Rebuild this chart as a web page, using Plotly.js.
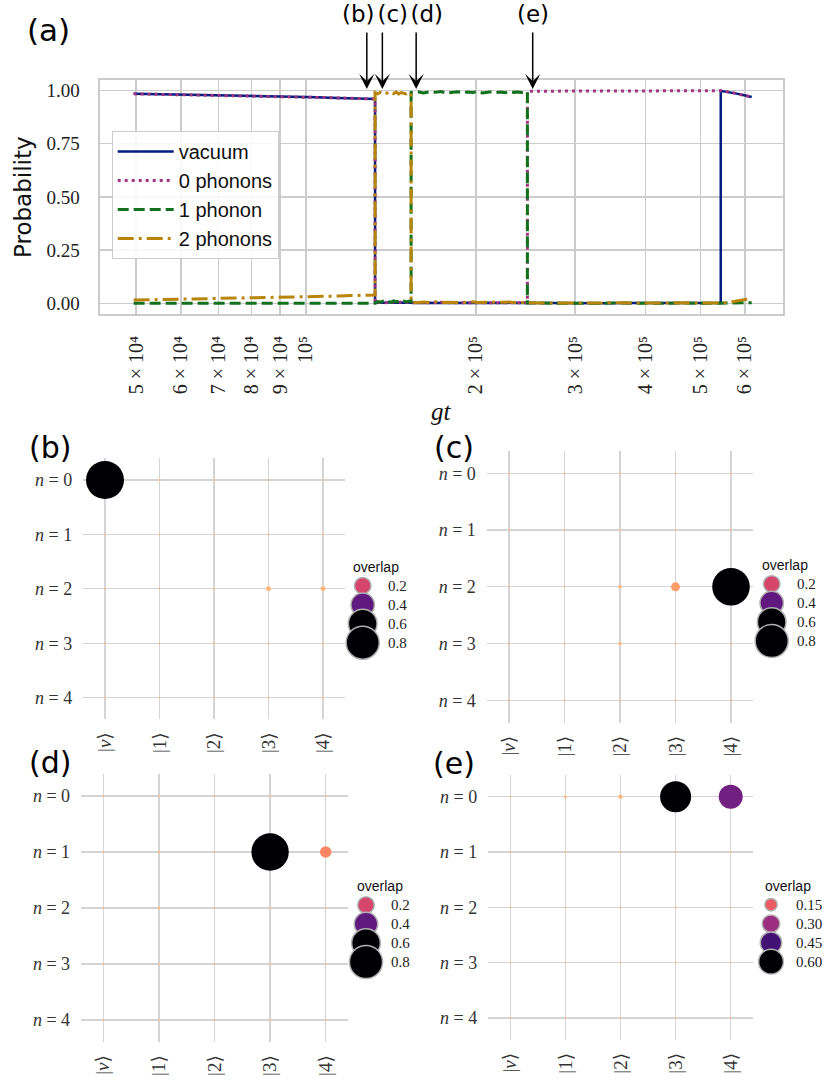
<!DOCTYPE html>
<html>
<head>
<meta charset="utf-8">
<script src="https://cdn.plot.ly/plotly-3.0.1.min.js"></script>
<style>html,body{margin:0;padding:0;background:#fff;}#chart{width:830px;height:1084px;}</style>
</head>
<body>
<div id="chart"></div>
<script>
// ---------------- data: panel (a) ----------------
const gt = [
  49500, 55000, 60000, 65000, 70000, 75000, 80000, 85000, 90000, 95000, 100000, 105000, 110000, 115000, 120000, 126000, 132600,
  132600, 134000, 135500, 137000, 138500, 140000, 141500, 143000, 144500, 146000, 147500, 149000, 150500, 152000, 153600,
  153600, 157500, 161500, 165500, 169500, 173500, 177500, 181500, 185500, 189500, 193500, 197500, 201500, 205500, 209500, 213500, 217500, 221500, 225500, 229500, 233500, 237500, 241500, 246900,
  246900, 265000, 285000, 305000, 325000, 345000, 365000, 385000, 405000, 425000, 445000, 465000, 485000, 505000, 525000, 543500,
  543500, 562000, 580000, 598000, 616700
];
const vacuum = [
  0.984, 0.982, 0.981, 0.980, 0.978, 0.977, 0.975, 0.974, 0.972, 0.971, 0.969, 0.968, 0.966, 0.965, 0.963, 0.962, 0.960,
  0.004, 0.003, 0.005, 0.004, 0.003, 0.006, 0.004, 0.003, 0.005, 0.004, 0.003, 0.005, 0.004, 0.003, 0.004,
  0.003, 0.002, 0.004, 0.003, 0.002, 0.004, 0.003, 0.002, 0.003, 0.004, 0.002, 0.003, 0.002, 0.004, 0.003, 0.002, 0.003, 0.004, 0.002, 0.003, 0.002, 0.003, 0.004, 0.003,
  0.002, 0.002, 0.001, 0.002, 0.002, 0.001, 0.002, 0.002, 0.001, 0.002, 0.002, 0.001, 0.002, 0.002, 0.001, 0.002,
  0.998, 0.993, 0.985, 0.977, 0.969
];
const zeroPhonons = [
  0.984, 0.982, 0.981, 0.979, 0.978, 0.976, 0.975, 0.974, 0.972, 0.971, 0.969, 0.967, 0.966, 0.965, 0.963, 0.962, 0.960,
  0.004, 0.006, 0.005, 0.007, 0.004, 0.006, 0.005, 0.008, 0.005, 0.006, 0.004, 0.007, 0.005, 0.006, 0.005,
  0.004, 0.003, 0.005, 0.003, 0.004, 0.006, 0.003, 0.004, 0.005, 0.003, 0.004, 0.003, 0.005, 0.004, 0.003, 0.005, 0.004, 0.003, 0.004, 0.005, 0.003, 0.004, 0.003, 0.004,
  0.996, 0.997, 0.998, 0.997, 0.998, 0.998, 0.997, 0.998, 0.998, 0.999, 0.998, 0.998, 0.999, 0.998, 0.999, 0.999,
  0.998, 0.993, 0.985, 0.977, 0.969
];
const onePhonon = [
  0.001, 0.001, 0.001, 0.001, 0.001, 0.001, 0.001, 0.001, 0.001, 0.001, 0.001, 0.001, 0.001, 0.001, 0.001, 0.001, 0.001,
  0.003, 0.009, 0.006, 0.011, 0.007, 0.010, 0.005, 0.012, 0.008, 0.009, 0.006, 0.011, 0.007, 0.010, 0.008,
  0.990, 0.994, 0.988, 0.993, 0.991, 0.995, 0.987, 0.992, 0.994, 0.989, 0.993, 0.990, 0.995, 0.988, 0.992, 0.994, 0.990, 0.993, 0.989, 0.995, 0.991, 0.993, 0.990, 0.994,
  0.002, 0.001, 0.002, 0.001, 0.001, 0.002, 0.001, 0.001, 0.002, 0.001, 0.001, 0.002, 0.001, 0.001, 0.002, 0.001,
  0.001, 0.002, 0.003, 0.003, 0.004
];
const twoPhonons = [
  0.016, 0.018, 0.020, 0.021, 0.023, 0.024, 0.026, 0.027, 0.029, 0.030, 0.031, 0.033, 0.034, 0.035, 0.037, 0.038, 0.040,
  0.990, 0.984, 0.991, 0.986, 0.993, 0.982, 0.989, 0.985, 0.992, 0.983, 0.990, 0.987, 0.984, 0.991, 0.986,
  0.006, 0.004, 0.007, 0.005, 0.008, 0.004, 0.006, 0.005, 0.007, 0.004, 0.006, 0.008, 0.005, 0.006, 0.004, 0.007, 0.005, 0.006, 0.004, 0.007, 0.005, 0.006, 0.004, 0.005,
  0.003, 0.002, 0.003, 0.002, 0.002, 0.003, 0.002, 0.002, 0.003, 0.002, 0.002, 0.003, 0.002, 0.002, 0.003, 0.002,
  0.003, 0.004, 0.012, 0.019, 0.024
];
const gtTickVals = [5e4, 6e4, 7e4, 8e4, 9e4, 1e5, 2e5, 3e5, 4e5, 5e5, 6e5];
const gtTickText = ['5 × 10⁴', '6 × 10⁴', '7 × 10⁴', '8 × 10⁴', '9 × 10⁴',
  '10⁵', '2 × 10⁵', '3 × 10⁵', '4 × 10⁵', '5 × 10⁵', '6 × 10⁵'];
const probTicks = [0, 0.25, 0.5, 0.75, 1.0];
const arrowGt = [128200, 136600, 156800, 252300];
const arrowLabels = ['(b)', '(c)', '(d)', '(e)'];

// ---------------- data: panels (b)-(e) ----------------
const states = ['|<i>v</i>⟩', '|1⟩', '|2⟩', '|3⟩', '|4⟩'];
const levels = ['<i>n</i> = 0', '<i>n</i> = 1', '<i>n</i> = 2', '<i>n</i> = 3', '<i>n</i> = 4'];
const overlapB = [
  [0.930, 0.002, 0.002, 0.002, 0.002],
  [0.002, 0.002, 0.002, 0.002, 0.002],
  [0.002, 0.002, 0.002, 0.016, 0.016],
  [0.002, 0.002, 0.002, 0.002, 0.002],
  [0.002, 0.002, 0.002, 0.002, 0.002]
];
const overlapC = [
  [0.002, 0.002, 0.002, 0.002, 0.002],
  [0.002, 0.003, 0.002, 0.002, 0.002],
  [0.002, 0.002, 0.010, 0.052, 0.910],
  [0.002, 0.002, 0.008, 0.002, 0.002],
  [0.002, 0.002, 0.002, 0.002, 0.002]
];
const overlapD = [
  [0.002, 0.002, 0.002, 0.002, 0.002],
  [0.002, 0.004, 0.002, 0.900, 0.085],
  [0.002, 0.005, 0.002, 0.002, 0.002],
  [0.002, 0.002, 0.002, 0.002, 0.002],
  [0.002, 0.002, 0.002, 0.002, 0.002]
];
const overlapE = [
  [0.002, 0.006, 0.013, 0.620, 0.370],
  [0.002, 0.002, 0.002, 0.002, 0.002],
  [0.002, 0.002, 0.002, 0.002, 0.002],
  [0.002, 0.002, 0.002, 0.002, 0.002],
  [0.002, 0.002, 0.002, 0.002, 0.002]
];
const legendValsBCD = [0.2, 0.4, 0.6, 0.8];
const legendTextBCD = ['0.2', '0.4', '0.6', '0.8'];
const legendValsE = [0.15, 0.30, 0.45, 0.60];
const legendTextE = ['0.15', '0.30', '0.45', '0.60'];

// ---------------- layout helpers ----------------
const W = 830, H = 1084;
const px = v => v / W;
const py = v => 1 - v / H;
const dX = (a, b) => [a / W, b / W];
const dY = (top, bottom) => [1 - bottom / H, 1 - top / H];
const SERIF = 'Liberation Serif, DejaVu Serif, serif';
const SANS = 'DejaVu Sans, sans-serif';
const HELV = 'Liberation Sans, Arial, sans-serif';
const magma = [
  [0.0, '#fec187'], [0.0805, '#fe9f6d'], [0.1954, '#f7705c'], [0.3103, '#de4968'],
  [0.4253, '#b73779'], [0.5402, '#8c2981'], [0.6552, '#641a80'], [0.7701, '#3b0f70'],
  [0.8851, '#140e36'], [1.0, '#000004']
];

const traces = [];
const lineDefs = [
  {y: vacuum, name: 'vacuum', color: '#001c7f', width: 2.5, dash: 'solid'},
  {y: zeroPhonons, name: '0 phonons', color: '#a23582', width: 3, dash: '3px,4px'},
  {y: onePhonon, name: '1 phonon', color: '#12711c', width: 3, dash: '11px,5px'},
  {y: twoPhonons, name: '2 phonons', color: '#b8850a', width: 3, dash: '16px,5px,3px,5px'}
];
lineDefs.forEach((d, i) => {
  traces.push({
    type: 'scatter', mode: 'lines', x: gt, y: d.y, name: d.name,
    legendgroup: 'g' + i,
    line: {color: d.color, width: d.width, dash: d.dash},
    xaxis: 'x', yaxis: 'y', hoverinfo: 'x+y+name'
  });
});

// panels
const panels = [
  {m: overlapB, ax: 2, cols: [105, 323], rows: [480, 697.7], leg: {cx: 362.7, y0: 585.7, title: [376, 567]}, lv: legendValsBCD, lt: legendTextBCD, k: 37, lab: ['(b)', 50, 448]},
  {m: overlapC, ax: 3, cols: [509, 731], rows: [473.3, 700.3], leg: {cx: 771.7, y0: 584, title: [785, 565]}, lv: legendValsBCD, lt: legendTextBCD, k: 37, lab: ['(c)', 454, 448]},
  {m: overlapD, ax: 4, cols: [103.3, 325.7], rows: [796, 1020], leg: {cx: 366, y0: 905, title: [380, 886]}, lv: legendValsBCD, lt: legendTextBCD, k: 37, lab: ['(d)', 50, 762]},
  {m: overlapE, ax: 5, cols: [510.3, 730.7], rows: [796.7, 1018], leg: {cx: 771, y0: 904.7, title: [788, 885.7]}, lv: legendValsE, lt: legendTextE, k: 32, lab: ['(e)', 454, 763]}
];
const DMAX = 39.4; // marker diameter (px) for overlap = 1

const layout = {
  width: W, height: H,
  margin: {l: 0, r: 0, t: 0, b: 0},
  paper_bgcolor: '#ffffff', plot_bgcolor: '#ffffff',
  showlegend: true,
  legend: {
    x: px(111.7), y: py(131), xanchor: 'left', yanchor: 'top',
    bgcolor: 'rgba(255,255,255,0.85)', bordercolor: '#cccccc', borderwidth: 1,
    font: {family: HELV, size: 20, color: '#111'},
    itemwidth: 56, tracegroupgap: 0, traceorder: 'normal'
  },
  xaxis: {
    type: 'log', domain: dX(100, 782.7), range: [4.635, 5.845],
    tickvals: gtTickVals, ticktext: gtTickText, tickangle: -90,
    tickfont: {family: SERIF, size: 20, color: '#222'},
    showgrid: true, gridcolor: '#cccccc', gridwidth: 1.5,
    showline: true, mirror: true, linecolor: '#cccccc', linewidth: 2.5,
    ticks: '', zeroline: false, ticklabelstandoff: 12, anchor: 'y'
  },
  yaxis: {
    domain: dY(80, 313.5), range: [-0.047, 1.049],
    tickvals: probTicks, tickformat: '.2f',
    tickfont: {family: SERIF, size: 19, color: '#222'},
    showgrid: true, gridcolor: '#cccccc', gridwidth: 1.5,
    showline: true, mirror: true, linecolor: '#cccccc', linewidth: 2.5,
    ticks: '', zeroline: false, ticklabelstandoff: 14, anchor: 'x'
  },
  annotations: [
    {text: '(a)', xref: 'paper', yref: 'paper', x: px(48), y: py(30), showarrow: false, xanchor: 'center', yanchor: 'middle', font: {family: SANS, size: 31, color: '#000'}},
    {text: 'Probability', xref: 'paper', yref: 'paper', x: px(23), y: py(197), showarrow: false, textangle: -90, xanchor: 'center', yanchor: 'middle', font: {family: SANS, size: 23, color: '#111'}},
    {text: '<i>gt</i>', xref: 'paper', yref: 'paper', x: px(441.7), y: py(412), showarrow: false, xanchor: 'center', yanchor: 'middle', font: {family: SERIF, size: 25, color: '#111'}}
  ]
};

// arrows with their labels: the text box is centred on the arrow, the label is aligned inside it
const arrowLabelAlign = ['left', 'right', 'right', 'center'];
const arrowLabelBox = [50, 52, 54, 40];
arrowGt.forEach((g, i) => {
  layout.annotations.push({
    text: arrowLabels[i], xref: 'x', yref: 'paper', x: Math.log10(g), y: py(89),
    showarrow: true, ax: 0, ay: -75, startstandoff: 4,
    width: arrowLabelBox[i], align: arrowLabelAlign[i],
    arrowhead: 3, arrowsize: 1.7, arrowwidth: 1.5, arrowcolor: '#000',
    font: {family: SANS, size: 23, color: '#000'}
  });
});

panels.forEach(p => {
  const sp = (p.cols[1] - p.cols[0]) / 4, rs = (p.rows[1] - p.rows[0]) / 4;
  const xa = 'xaxis' + p.ax, ya = 'yaxis' + p.ax;
  layout[xa] = {
    domain: dX(p.cols[0] - 0.4 * sp, p.cols[1] + 0.4 * sp), range: [-0.4, 4.4],
    type: 'category', categoryorder: 'array', categoryarray: states,
    tickangle: -90, tickfont: {family: SERIF, size: 19, color: '#333'},
    showgrid: true, gridcolor: '#d4d4d4', gridwidth: 1.3, showline: false, zeroline: false,
    ticks: '', ticklabelstandoff: 8, anchor: 'y' + p.ax
  };
  layout[ya] = {
    domain: dY(p.rows[0] - 0.4 * rs, p.rows[1] + 0.4 * rs), range: [4.4, -0.4],
    type: 'category', categoryorder: 'array', categoryarray: levels,
    tickfont: {family: SERIF, size: 18, color: '#333'},
    showgrid: true, gridcolor: '#d4d4d4', gridwidth: 1.3, showline: false, zeroline: false,
    ticks: '', ticklabelstandoff: 10, anchor: 'x' + p.ax
  };
  const xs = [], ys = [], vs = [];
  p.m.forEach((row, r) => row.forEach((v, c) => { xs.push(states[c]); ys.push(levels[r]); vs.push(v); }));
  traces.push({
    type: 'scatter', mode: 'markers', x: xs, y: ys, showlegend: false,
    xaxis: 'x' + p.ax, yaxis: 'y' + p.ax, hoverinfo: 'x+y',
    marker: {
      size: vs.map(v => Math.max(2, DMAX * Math.sqrt(v))), color: vs,
      colorscale: magma, cmin: 0, cmax: 0.6, showscale: false, opacity: 1,
      line: {width: 0}
    }
  });
  // size/colour legend on its own small axes
  const la = p.ax + 4;
  const L = p.leg;
  layout['xaxis' + la] = {domain: dX(L.cx - 12, L.cx + 48), range: [-0.2, 0.8], visible: false, anchor: 'y' + la, fixedrange: true};
  layout['yaxis' + la] = {domain: dY(L.y0 - 9.5, L.y0 + 57 + 9.5), range: [3.5, -0.5], type: 'category', categoryorder: 'array', categoryarray: p.lt, visible: false, anchor: 'x' + la, fixedrange: true};
  traces.push({
    type: 'scatter', mode: 'markers', x: p.lv.map(() => 0), y: p.lt, showlegend: false,
    xaxis: 'x' + la, yaxis: 'y' + la, hoverinfo: 'skip', cliponaxis: false,
    marker: {size: p.lv.map(v => p.k * Math.sqrt(v)), color: p.lv, colorscale: magma, cmin: 0, cmax: 0.6,
      showscale: false, opacity: 1, line: {color: '#b0b0b0', width: 1.5}}
  });
  p.lt.forEach((t, i) => {
    layout.annotations.push({
      text: t, xref: 'x' + la, yref: 'y' + la, x: 0.38, y: i, showarrow: false,
      xanchor: 'left', yanchor: 'middle', font: {family: SERIF, size: 15, color: '#222'}
    });
  });
  layout.annotations.push({
    text: 'overlap', xref: 'paper', yref: 'paper', x: px(L.title[0]), y: py(L.title[1]), showarrow: false,
    xanchor: 'center', yanchor: 'middle', font: {family: HELV, size: 14, color: '#111'}
  });
  layout.annotations.push({
    text: p.lab[0], xref: 'paper', yref: 'paper', x: px(p.lab[1]), y: py(p.lab[2]), showarrow: false,
    xanchor: 'center', yanchor: 'middle', font: {family: SANS, size: 30, color: '#000'}
  });
});

Plotly.newPlot('chart', traces, layout, {displayModeBar: false, staticPlot: true});
</script>
</body>
</html>
